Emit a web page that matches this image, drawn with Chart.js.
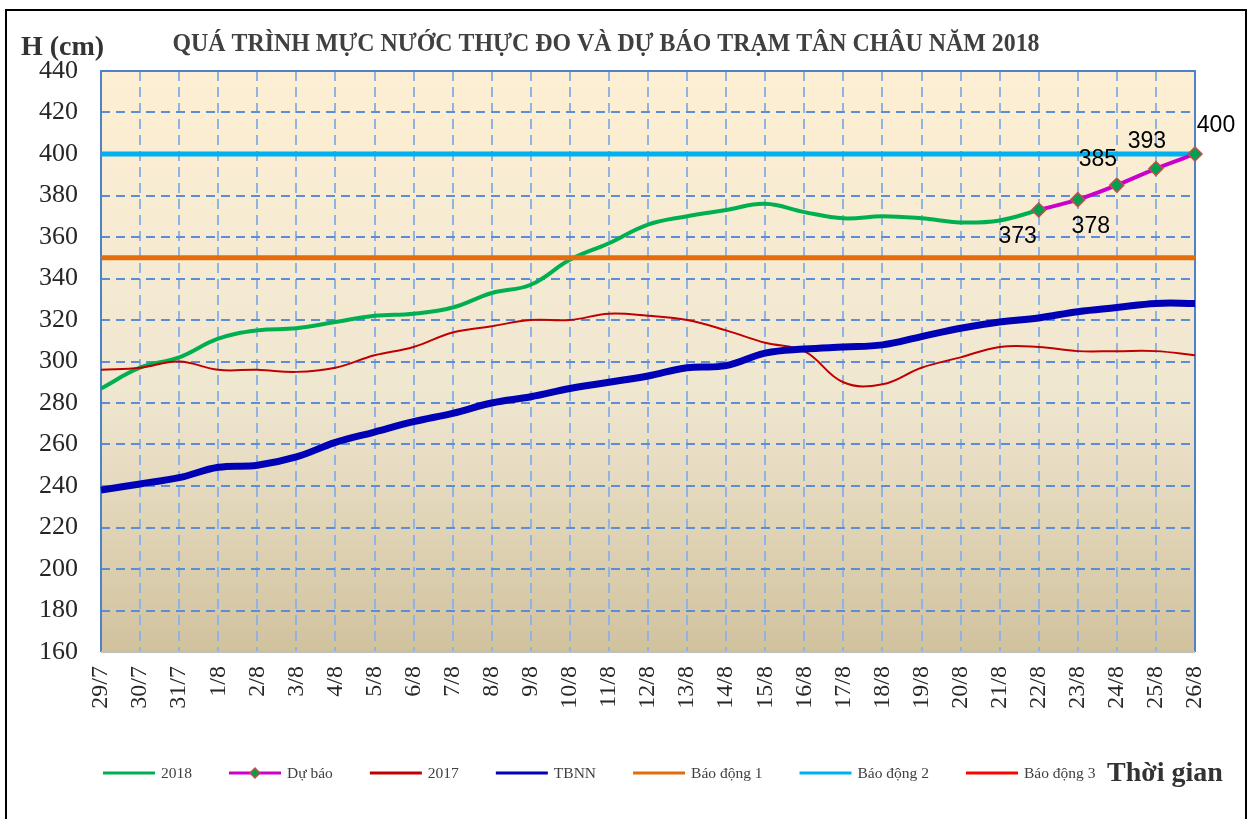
<!DOCTYPE html>
<html lang="vi">
<head>
    <meta charset="UTF-8">
    <title>Quá trình mực nước Tân Châu 2018</title>
    <script src="https://cdn.jsdelivr.net/npm/chart.js"></script>
    <style>
        * { margin: 0; padding: 0; box-sizing: border-box; }
        body { background: #FFFFFF; width: 1253px; height: 819px; overflow: hidden; }
        #wrap { position: relative; width: 1253px; height: 819px; }
    </style>
</head>
<body>
<div id="wrap">
    <canvas id="waterChart" width="1253" height="819"></canvas>
</div>

<script>
    // x categories (ngày)
    const days = ['29/7', '30/7', '31/7', '1/8', '2/8', '3/8', '4/8', '5/8', '6/8', '7/8',
        '8/8', '9/8', '10/8', '11/8', '12/8', '13/8', '14/8', '15/8', '16/8', '17/8',
        '18/8', '19/8', '20/8', '21/8', '22/8', '23/8', '24/8', '25/8', '26/8'];

    // thực đo 2018 (cm)
    const level2018 = [287, 297, 302, 311, 315, 316, 319, 322, 323, 326,
        333, 337, 349, 357, 366, 370, 373, 376, 372, 369,
        370, 369, 367, 368, 373, null, null, null, null];

    // dự báo (cm)
    const forecast = [null, null, null, null, null, null, null, null, null, null,
        null, null, null, null, null, null, null, null, null, null,
        null, null, null, null, 373, 378, 385, 393, 400];

    // năm 2017 (cm)
    const level2017 = [296, 297, 300, 296, 296, 295, 297, 303, 307, 314,
        317, 320, 320, 323, 322, 320, 315, 309, 305, 290,
        289, 297, 302, 307, 307, 305, 305, 305, 303];

    // trung bình nhiều năm (cm)
    const levelTBNN = [238, 241, 244, 249, 250, 254, 261, 266, 271, 275,
        280, 283, 287, 290, 293, 297, 298, 304, 306, 307,
        308, 312, 316, 319, 321, 324, 326, 328, 328];

    // mức báo động (cm)
    const alarm1 = 350;
    const alarm2 = 400;
    const alarm3 = 450;

    const yTicks = { min: 160, max: 440, step: 20 };

    const serif = '"Liberation Serif", "Times New Roman", serif';
    const sans = '"Liberation Sans", Arial, sans-serif';

    // background + frame of the plot area
    const plotBackground = {
        id: 'plotBackground',
        beforeDraw(chart) {
            const { ctx, chartArea: a } = chart;
            const g = ctx.createLinearGradient(0, a.top, 0, a.bottom);
            g.addColorStop(0, '#FDEFD3');
            g.addColorStop(0.55, '#F0E7D1');
            g.addColorStop(1, '#D1C29E');
            ctx.save();
            ctx.fillStyle = g;
            ctx.fillRect(a.left, a.top, a.right - a.left, a.bottom - a.top);
            ctx.restore();
        },
        beforeDatasetsDraw(chart) {
            const { ctx, chartArea: a } = chart;
            ctx.save();
            ctx.lineWidth = 2;
            ctx.strokeStyle = '#4F81C8';
            ctx.beginPath();
            ctx.moveTo(a.left, a.bottom);
            ctx.lineTo(a.left, a.top);
            ctx.lineTo(a.right, a.top);
            ctx.lineTo(a.right, a.bottom);
            ctx.stroke();
            ctx.strokeStyle = '#BFBFBF';
            ctx.beginPath();
            ctx.moveTo(a.left, a.bottom);
            ctx.lineTo(a.right, a.bottom);
            ctx.stroke();
            ctx.restore();
        }
    };

    // value labels on the forecast points
    const labelOffsets = [[-21, 27], [13, 27], [-19, -25], [-9, -27], [21, -28]];
    const forecastLabels = {
        id: 'forecastLabels',
        afterDatasetsDraw(chart) {
            const idx = chart.data.datasets.findIndex(d => d.label === 'Dự báo');
            const meta = chart.getDatasetMeta(idx);
            const { ctx } = chart;
            ctx.save();
            ctx.font = '23px ' + sans;
            ctx.fillStyle = '#000000';
            ctx.textAlign = 'center';
            ctx.textBaseline = 'middle';
            let k = 0;
            meta.data.forEach((pt, i) => {
                const v = forecast[i];
                if (v === null) return;
                const off = labelOffsets[k++] || [0, -25];
                ctx.fillText(String(v), pt.x + off[0], pt.y + off[1]);
            });
            ctx.restore();
        }
    };

    // titles, legend, outer frame
    const decorations = {
        id: 'decorations',
        afterDraw(chart) {
            const { ctx } = chart;
            ctx.save();

            // outer frame
            ctx.lineWidth = 2;
            ctx.strokeStyle = '#000000';
            ctx.strokeRect(6, 10, 1240, 830);

            // main title, squeezed to the width it has in the reference
            const title = 'QUÁ TRÌNH MỰC NƯỚC THỰC ĐO VÀ DỰ BÁO TRẠM TÂN CHÂU NĂM 2018';
            ctx.font = 'bold 25px ' + serif;
            ctx.fillStyle = '#404040';
            ctx.textBaseline = 'alphabetic';
            const tw = ctx.measureText(title).width;
            const sx = Math.min(1, 867 / tw);
            ctx.save();
            ctx.translate(606, 51);
            ctx.scale(sx, 1);
            ctx.textAlign = 'center';
            ctx.fillText(title, 0, 0);
            ctx.restore();

            // axis names
            ctx.font = 'bold 28px ' + serif;
            ctx.fillStyle = '#333333';
            ctx.textAlign = 'left';
            ctx.fillText('H (cm)', 21, 55);
            ctx.fillText('Thời gian', 1107, 781);

            // legend
            const ly = 773;
            let x = 103;
            ctx.font = '15.5px ' + serif;
            ctx.textBaseline = 'middle';
            chart.data.datasets.forEach(ds => {
                ctx.strokeStyle = ds.borderColor;
                ctx.lineWidth = 3;
                ctx.beginPath();
                ctx.moveTo(x, ly);
                ctx.lineTo(x + 52, ly);
                ctx.stroke();
                if (ds.pointRadius > 0) {
                    ctx.save();
                    ctx.translate(x + 26, ly);
                    ctx.rotate(Math.PI / 4);
                    ctx.fillStyle = ds.pointBackgroundColor;
                    ctx.strokeStyle = ds.pointBorderColor;
                    ctx.lineWidth = 1.5;
                    ctx.fillRect(-3.5, -3.5, 7, 7);
                    ctx.strokeRect(-3.5, -3.5, 7, 7);
                    ctx.restore();
                }
                ctx.fillStyle = '#404040';
                ctx.fillText(ds.label, x + 58, ly + 1);
                x += 58 + ctx.measureText(ds.label).width + 37;
            });
            ctx.restore();
        }
    };

    const flat = v => days.map(() => v);

    const ctx = document.getElementById('waterChart').getContext('2d');
    new Chart(ctx, {
        type: 'line',
        data: {
            labels: days,
            datasets: [
                { label: '2018', data: level2018, borderColor: '#00B050', borderWidth: 4, pointRadius: 0, tension: 0.4, order: 6 },
                {
                    label: 'Dự báo', data: forecast, borderColor: '#CC00CC', borderWidth: 4, tension: 0.3, order: 0,
                    pointStyle: 'rectRot', pointRadius: 7, pointBackgroundColor: '#00A050',
                    pointBorderColor: '#C0504D', pointBorderWidth: 1.5
                },
                { label: '2017', data: level2017, borderColor: '#C00000', borderWidth: 2, pointRadius: 0, tension: 0.4, order: 5 },
                { label: 'TBNN', data: levelTBNN, borderColor: '#0000B4', borderWidth: 7, pointRadius: 0, tension: 0.4, order: 4 },
                { label: 'Báo động 1', data: flat(alarm1), borderColor: '#E46C0A', borderWidth: 5, pointRadius: 0, order: 2 },
                { label: 'Báo động 2', data: flat(alarm2), borderColor: '#00B0F0', borderWidth: 5, pointRadius: 0, order: 1 },
                { label: 'Báo động 3', data: flat(alarm3), borderColor: '#FF0000', borderWidth: 3, pointRadius: 0, order: 3 }
            ]
        },
        options: {
            responsive: false,
            animation: false,
            spanGaps: false,
            layout: { padding: { left: 0, right: 58, top: 71, bottom: 0 } },
            plugins: {
                legend: { display: false },
                tooltip: { enabled: false }
            },
            scales: {
                x: {
                    offset: false,
                    grid: { offset: false, color: '#8DB4E2', lineWidth: 2, drawTicks: false },
                    border: { display: false, dash: [10, 6] },
                    ticks: {
                        autoSkip: false, maxRotation: 90, minRotation: 90, padding: 14,
                        color: '#262626', font: { family: serif, size: 24 }
                    },
                    afterFit: s => { s.height = 167; }
                },
                y: {
                    min: yTicks.min, max: yTicks.max,
                    grid: { color: '#5B8ED6', lineWidth: 2, drawTicks: false },
                    border: { display: false, dash: [9, 6] },
                    ticks: {
                        stepSize: yTicks.step, padding: 23,
                        color: '#262626', font: { family: serif, size: 26 }
                    },
                    afterFit: s => { s.width = 101; }
                }
            }
        },
        plugins: [plotBackground, forecastLabels, decorations]
    });
</script>
</body>
</html>
